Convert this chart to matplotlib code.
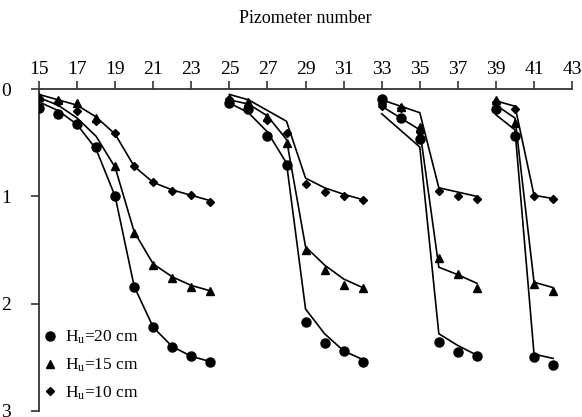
import matplotlib.pyplot as plt

plt.rcParams['font.family'] = 'Liberation Serif'
plt.rcParams['mathtext.fontset'] = 'custom'
plt.rcParams['mathtext.rm'] = 'Liberation Serif'
plt.rcParams['mathtext.it'] = 'Liberation Serif:italic'

# measured water levels, one list per group of piezometers
groups_x = [list(range(15, 25)), list(range(25, 33)), list(range(33, 39)), list(range(39, 43))]
h20 = [[0.18, 0.23, 0.33, 0.54, 1.00, 1.84, 2.22, 2.40, 2.49, 2.54],
       [0.13, 0.19, 0.44, 0.71, 2.17, 2.37, 2.44, 2.54],
       [0.09, 0.27, 0.465, 2.36, 2.45, 2.49],
       [0.19, 0.44, 2.50, 2.57]]
h15 = [[0.07, 0.10, 0.13, 0.27, 0.72, 1.34, 1.64, 1.76, 1.84, 1.88],
       [0.10, 0.125, 0.26, 0.50, 1.50, 1.69, 1.83, 1.85],
       [0.10, 0.17, 0.355, 1.57, 1.72, 1.85],
       [0.10, 0.32, 1.82, 1.885]]
h10 = [[0.08, 0.12, 0.20, 0.30, 0.41, 0.72, 0.87, 0.95, 0.99, 1.05],
       [0.09, 0.16, 0.29, 0.41, 0.885, 0.96, 1.00, 1.03],
       [0.155, 0.18, 0.40, 0.95, 1.00, 1.025],
       [0.12, 0.19, 1.00, 1.025]]

# simulated curves (polyline vertices)
line_x = [[15, 16, 17, 18, 19, 20, 21, 22, 23, 24],
          [25, 26, 27, 28, 29, 30, 31, 32],
          [33, 35, 36, 37, 38],
          [39, 40, 41, 42]]
line_h10 = [[0.05, 0.10, 0.15, 0.26, 0.42, 0.72, 0.87, 0.94, 0.99, 1.04],
            [0.05, 0.10, 0.20, 0.30, 0.83, 0.92, 0.98, 1.03],
            [0.10, 0.22, 0.92, 0.96, 1.00],
            [0.11, 0.16, 0.99, 1.02]]
line_h15 = [[0.08, 0.15, 0.27, 0.44, 0.73, 1.33, 1.63, 1.75, 1.83, 1.88],
            [0.10, 0.14, 0.25, 0.47, 1.47, 1.64, 1.77, 1.85],
            [0.16, 0.38, 1.66, 1.73, 1.81],
            [0.15, 0.27, 1.80, 1.85]]
line_h20 = [[0.12, 0.20, 0.33, 0.56, 1.00, 1.84, 2.22, 2.40, 2.49, 2.54],
            [0.13, 0.22, 0.40, 0.69, 2.05, 2.28, 2.44, 2.52],
            [0.23, 0.54, 2.28, 2.39, 2.48],
            [0.24, 0.38, 2.47, 2.51]]

labels = ['H$_\\mathrm{u}$=20 cm', 'H$_\\mathrm{u}$=15 cm', 'H$_\\mathrm{u}$=10 cm']

fig = plt.figure(figsize=(5.82, 4.17), dpi=100)
ax = fig.add_axes([0.067, 0.0144, 0.916, 0.772])

for i in range(len(groups_x)):
    for ly in (line_h10[i], line_h15[i], line_h20[i]):
        ax.plot(line_x[i], ly, color='black', lw=1.2, zorder=2)
    ax.plot(groups_x[i], h20[i], 'o', color='black', ms=6.5, zorder=3,
            label=labels[0] if i == 0 else None)
    ax.plot(groups_x[i], h15[i], '^', color='black', ms=6, zorder=3,
            label=labels[1] if i == 0 else None)
    ax.plot(groups_x[i], h10[i], 'D', color='black', ms=4.5, zorder=3,
            label=labels[2] if i == 0 else None)

ax.set_xlim(15, 43)
ax.set_ylim(3, 0)
ax.set_xticks(range(15, 44, 2))
ax.set_yticks([0, 1, 2, 3])
ax.xaxis.tick_top()
ax.xaxis.set_label_position('top')
ax.set_xlabel('Pizometer number', fontsize=13, labelpad=27)
ax.tick_params(axis='x', direction='out', length=6, width=1.2, labelsize=14, pad=2, color='#333333')
ax.tick_params(axis='y', direction='out', length=6, width=1.2, labelsize=14, pad=14, color='#333333')
for s in ['right', 'bottom']:
    ax.spines[s].set_visible(False)
for s in ['left', 'top']:
    ax.spines[s].set_linewidth(1.3)
    ax.spines[s].set_color('#333333')

ax.legend(loc='lower left', bbox_to_anchor=(-0.025, -0.02), frameon=False, fontsize=12.5,
          handlelength=1.0, handletextpad=0.35, labelspacing=0.6)

fig.savefig('out.png', dpi=100)
